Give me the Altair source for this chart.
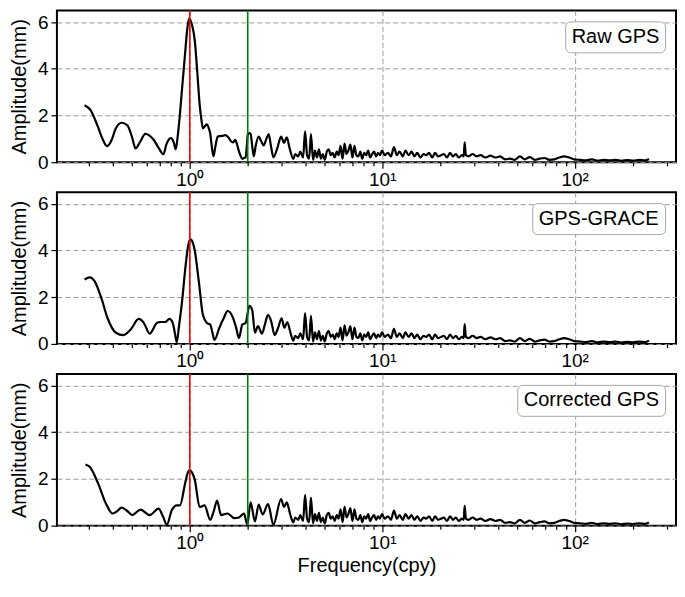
import altair as alt
import pandas as pd

# ---------------- data ----------------
series_names = ["Raw GPS", "GPS-GRACE", "Corrected GPS"]

raw_freq = [0.284, 0.305, 0.333, 0.352, 0.371, 0.39, 0.413, 0.442, 0.474, 0.50,
            0.523, 0.55, 0.588, 0.615, 0.649, 0.69, 0.730, 0.755, 0.796, 0.825,
            0.845, 0.865, 0.889, 0.915, 0.943, 0.97, 0.992, 1.025, 1.061, 1.095,
            1.125, 1.15, 1.17, 1.20, 1.227, 1.255, 1.276, 1.30, 1.327, 1.36,
            1.397, 1.44, 1.481, 1.535, 1.59, 1.635, 1.68, 1.720, 1.755, 1.788,
            1.83, 1.875, 1.91, 1.951, 1.975, 2.0, 2.035, 2.07, 2.11, 2.15,
            2.2, 2.28, 2.35, 2.42, 2.50, 2.57, 2.64, 2.72, 2.85, 2.98,
            3.09, 3.19, 3.30]
raw_amp = [2.44, 2.23, 1.52, 1.0, 0.69, 0.9, 1.45, 1.69, 1.58, 1.1,
           0.59, 0.85, 1.21, 1.15, 0.96, 0.6, 0.34, 0.75, 1.03, 0.85,
           0.55, 1.1, 2.07, 3.3, 4.55, 5.7, 6.16, 5.9, 5.23, 3.8,
           2.48, 1.8, 1.45, 1.55, 1.62, 1.45, 1.24, 0.7, 0.25, 0.7,
           1.10, 1.12, 1.13, 1.16, 1.05, 0.9, 0.85, 0.96, 0.8, 0.55,
           0.3, 0.14, 0.18, 0.21, 0.6, 1.17, 1.25, 1.21, 0.7, 0.25,
           0.7, 1.10, 0.9, 0.72, 1.0, 1.2, 0.7, 0.21, 0.6, 1.10,
           0.83, 1.06, 0.6]

diff_freq = [0.284, 0.302, 0.32, 0.346, 0.374, 0.413, 0.452, 0.493, 0.543, 0.577,
             0.619, 0.675, 0.702, 0.745, 0.784, 0.815, 0.835, 0.855, 0.88, 0.907,
             0.954, 0.98, 1.008, 1.035, 1.061, 1.116, 1.17, 1.227, 1.276, 1.31,
             1.343, 1.424, 1.50, 1.571, 1.667, 1.74, 1.80, 1.875, 1.951, 2.04,
             2.11, 2.18, 2.26, 2.37, 2.45, 2.55, 2.65, 2.76, 2.88, 3.0,
             3.10, 3.21, 3.33]
diff_amp = [2.76, 2.85, 2.69, 2.0, 1.1, 0.48, 0.38, 0.62, 1.07, 0.9,
            0.44, 0.9, 0.94, 0.94, 1.07, 0.9, 0.5, 0.07, 0.8, 1.65,
            3.45, 4.2, 4.48, 4.35, 4.0, 2.62, 1.24, 0.9, 0.83, 0.5,
            0.17, 0.69, 1.1, 1.41, 1.17, 0.7, 0.25, 0.83, 0.9, 1.63,
            1.45, 0.48, 0.76, 0.44, 0.8, 1.24, 0.96, 0.38, 0.7, 1.1,
            0.69, 0.94, 0.5]

corr_freq = [0.287, 0.302, 0.333, 0.367, 0.397, 0.42, 0.442, 0.47, 0.503, 0.555,
             0.619, 0.688, 0.725, 0.76, 0.806, 0.855, 0.889, 0.943, 0.97, 1.0,
             1.03, 1.061, 1.125, 1.193, 1.276, 1.33, 1.386, 1.453, 1.571, 1.700,
             1.80, 1.913, 1.99, 2.07, 2.18, 2.28, 2.39, 2.55, 2.72, 2.98,
             3.09, 3.19, 3.32]
corr_amp = [2.62, 2.52, 1.83, 0.94, 0.52, 0.62, 0.77, 0.65, 0.45, 0.69,
            0.45, 0.73, 0.4, 0.04, 0.66, 0.87, 0.87, 1.76, 2.2, 2.38,
            2.25, 1.97, 0.8, 0.87, 0.25, 0.6, 1.07, 0.45, 0.52, 0.32,
            0.35, 0.52, 0.04, 1.0, 0.18, 0.9, 0.48, 0.92, 0.04, 1.14,
            0.8, 1.0, 0.5]

# high-frequency part (visually identical in all three panels)
tail_freq = [3.45, 3.53, 3.66, 3.75, 3.88, 3.97, 4.07, 4.17, 4.26, 4.37,
             4.47, 4.58, 4.69, 4.80, 4.91, 5.03, 5.15, 5.27, 5.40, 5.53,
             5.66, 5.80, 5.93, 6.07, 6.22, 6.37, 6.52, 6.67, 6.83, 7.00,
             7.17, 7.34, 7.51, 7.69, 7.87, 8.06, 8.25, 8.45, 8.65, 8.86,
             9.07, 9.29, 9.51, 9.73, 9.97, 10.3, 10.7, 11.1, 11.5, 11.9,
             12.3, 12.8, 13.2, 13.7, 14.2, 14.7, 15.2, 15.8, 16.4, 16.9,
             17.5, 18.2, 18.8, 19.5, 20.2, 20.9, 21.7, 22.5, 23.3, 24.1,
             25.0, 25.9, 26.5, 26.8, 27.2, 28.1, 29.5, 30.9, 32.4, 34.4,
             36.5, 38.7, 41.0, 43.5, 46.1, 48.9, 51.9, 55.1, 58.4, 62.0,
             65.7, 69.7, 73.9, 78.4, 83.2, 88.2, 93.6, 99.3, 106.6, 114.4,
             122.8, 131.8, 141.4, 151.8, 162.9, 174.8, 187.7, 201.4, 216.2, 232.0,
             243.2]
tail_amp = [0.14, 0.35, 0.25, 0.45, 0.20, 1.32, 0.30, 0.15, 1.20, 0.10,
            0.50, 0.20, 0.55, 0.15, 0.35, 0.10, 0.45, 0.55, 0.30, 0.40,
            0.20, 0.45, 0.30, 0.70, 0.15, 0.80, 0.35, 0.50, 0.75, 0.20,
            0.70, 0.30, 0.25, 0.45, 0.15, 0.40, 0.30, 0.50, 0.20, 0.35,
            0.45, 0.25, 0.40, 0.30, 0.50, 0.30, 0.40, 0.25, 0.65, 0.30,
            0.45, 0.25, 0.50, 0.30, 0.45, 0.25, 0.40, 0.20, 0.35, 0.30,
            0.40, 0.20, 0.40, 0.25, 0.30, 0.35, 0.20, 0.40, 0.25, 0.35,
            0.20, 0.30, 0.25, 0.85, 0.30, 0.25, 0.35, 0.25, 0.30, 0.20,
            0.28, 0.20, 0.25, 0.12, 0.15, 0.10, 0.25, 0.12, 0.22, 0.10,
            0.15, 0.18, 0.10, 0.12, 0.20, 0.25, 0.20, 0.12, 0.10, 0.08,
            0.12, 0.07, 0.10, 0.08, 0.10, 0.06, 0.09, 0.07, 0.10, 0.08,
            0.14]

annual_freq = [1.0]
semiannual_freq = [2.0]

x_ticks = [0.3, 0.4, 0.5, 0.6, 0.7, 0.8, 0.9, 1, 2, 3, 4, 5, 6, 7, 8, 9,
           10, 20, 30, 40, 50, 60, 70, 80, 90, 100, 200, 300]
y_ticks = [0, 2, 4, 6]

# ---------------- chart ----------------
FONT = "Liberation Sans"
MAJOR = "datum.value == 1 || datum.value == 10 || datum.value == 100"
LABELS = ("datum.value == 1 ? '10\u2070' : datum.value == 10 ? '10\u00b9' : "
          "datum.value == 100 ? '10\u00b2' : ''")


def panel(name, freq, amp, last):
    df = pd.DataFrame({"freq": freq + tail_freq, "amp": amp + tail_amp})
    df["series"] = name
    x = alt.X(
        "freq:Q",
        scale=alt.Scale(type="log", domain=[0.204, 336], nice=False),
        axis=alt.Axis(
            values=x_ticks,
            labelExpr=LABELS,
            labelOverlap=False,
            labelFlush=False,
            tickSize={"condition": {"test": MAJOR, "value": 6}, "value": 3.5},
            grid=True,
            gridOpacity={"condition": {"test": MAJOR, "value": 1}, "value": 0},
            gridDash=[5, 3],
            gridColor="#9a9a9a",
            labelPadding=2,
            titlePadding=3,
            title="Frequency(cpy)" if last else None,
        ),
    )
    y = alt.Y(
        "amp:Q",
        scale=alt.Scale(domain=[0, 6.5], nice=False),
        axis=alt.Axis(values=y_ticks, grid=True, gridDash=[5, 3],
                      gridColor="#9a9a9a", tickSize=6,
                      title="Amplitude(mm)", titlePadding=8, labelPadding=3),
    )
    line = alt.Chart(df).mark_line(strokeWidth=2.2, interpolate="monotone").encode(
        x=x,
        y=y,
        color=alt.Color(
            "series:N",
            scale=alt.Scale(range=["black"]),
            legend=alt.Legend(
                title=None, orient="top-right", offset=11, padding=5.5,
                strokeColor="#a8a8a8", cornerRadius=5, fillColor="white",
                labelFontSize=20, labelFont=FONT, labelColor="black",
                symbolSize=0, symbolOpacity=0, symbolStrokeWidth=0,
                labelOffset={"expr": "-19"},
            ),
        ),
    )
    red = alt.Chart(pd.DataFrame({"freq": annual_freq})).mark_rule(
        color="#ff0000", strokeWidth=1.6).encode(x="freq:Q")
    green = alt.Chart(pd.DataFrame({"freq": semiannual_freq})).mark_rule(
        color="#008000", strokeWidth=1.6).encode(x="freq:Q")
    return alt.layer(line, red, green).properties(width=620, height=152)


chart = alt.vconcat(
    panel(series_names[0], raw_freq, raw_amp, False),
    panel(series_names[1], diff_freq, diff_amp, False),
    panel(series_names[2], corr_freq, corr_amp, True),
    spacing=0,
).resolve_scale(color="independent").properties(
    padding={"left": 0, "top": 0, "right": 0, "bottom": 0}
).configure(
    padding=0
).configure_view(
    stroke="black", strokeWidth=2
).configure_axis(
    labelFont=FONT, titleFont=FONT, labelFontSize=19, titleFontSize=20,
    labelColor="black", titleColor="black", tickColor="black", tickWidth=1.2,
    titleFontWeight="normal", domain=False,
)

chart.save("out.html", embed_options={"renderer": "svg", "actions": False})
